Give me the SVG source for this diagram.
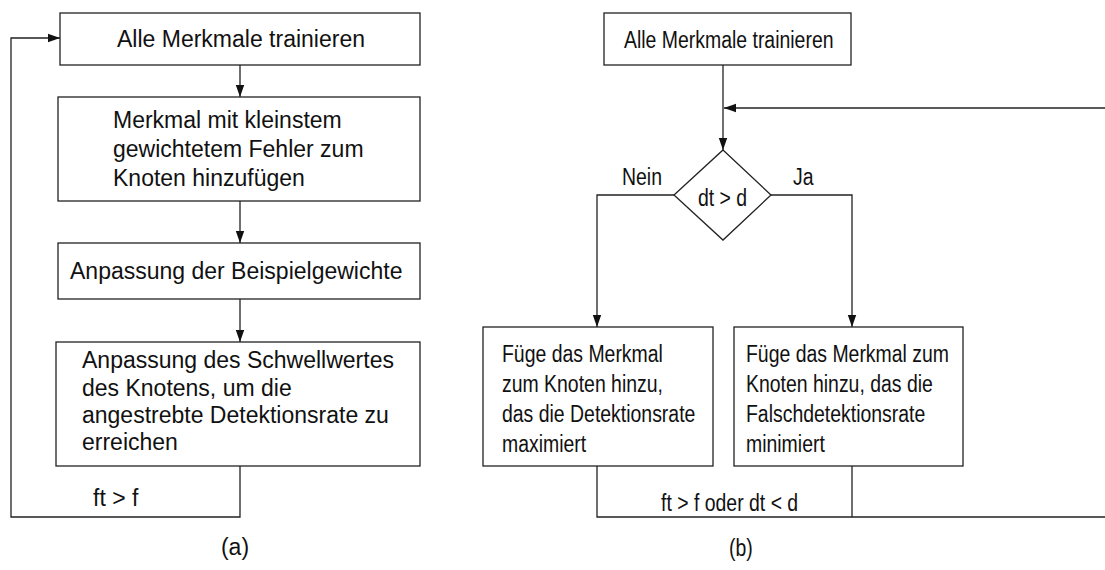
<svg xmlns="http://www.w3.org/2000/svg" width="1105" height="570" viewBox="0 0 1105 570">
<style>
.box{fill:#fff;stroke:#222;stroke-width:1.3}
.ln{fill:none;stroke:#222;stroke-width:1.3}
.t{font-family:"Liberation Sans",Arial,sans-serif;font-size:23px;fill:#111}
.r{font-family:"Liberation Sans",Arial,sans-serif;font-size:24px;fill:#111}
</style>
<defs>
<marker id="arr" viewBox="0 0 12 10" refX="12" refY="5" markerWidth="12" markerHeight="10" markerUnits="userSpaceOnUse" orient="auto">
<path d="M0,0.8 L12,5 L0,9.2 Z" fill="#111"/>
</marker>
</defs>
<rect width="1105" height="570" fill="#fff"/>
<g id="connectors">
<path class="ln" d="M240,65 V97" marker-end="url(#arr)"/>
<path class="ln" d="M240,201 V243" marker-end="url(#arr)"/>
<path class="ln" d="M240,299 V342" marker-end="url(#arr)"/>
<path class="ln" d="M240,466 V517 H11 V38 H60" marker-end="url(#arr)"/>
<path class="ln" d="M723,65 V150" marker-end="url(#arr)"/>
<path class="ln" d="M1105,108 H724" marker-end="url(#arr)"/>
<path class="ln" d="M674,195 H597 V327" marker-end="url(#arr)"/>
<path class="ln" d="M771,195 H852 V327" marker-end="url(#arr)"/>
<path class="ln" d="M597,466 V517 H1105"/>
<path class="ln" d="M852,466 V517"/>
</g>
<g id="a-train">
<rect class="box" x="60" y="13" width="360" height="52"/>
<text class="t" x="241" y="47" text-anchor="middle">Alle Merkmale trainieren</text>
</g>
<g id="a-add">
<rect class="box" x="58" y="97" width="362" height="104"/>
<text class="t" x="113" y="128">Merkmal mit kleinstem</text>
<text class="t" x="113" y="157">gewichtetem Fehler zum</text>
<text class="t" x="113" y="186">Knoten hinzufügen</text>
</g>
<g id="a-weights">
<rect class="box" x="58" y="243" width="362" height="56"/>
<text class="t" x="70" y="279">Anpassung der Beispielgewichte</text>
</g>
<g id="a-threshold">
<rect class="box" x="56" y="342" width="364" height="124"/>
<text class="t" x="82" y="368">Anpassung des Schwellwertes</text>
<text class="t" x="82" y="396">des Knotens, um die</text>
<text class="t" x="82" y="423">angestrebte Detektionsrate zu</text>
<text class="t" x="82" y="450">erreichen</text>
</g>
<g id="a-labels">
<text class="t" x="93" y="506">ft &gt; f</text>
<text class="t" x="235" y="555" text-anchor="middle">(a)</text>
</g>
<g id="b-train">
<rect class="box" x="604" y="13" width="247" height="52"/>
<text class="r" transform="matrix(0.81 0 0 1 624 0)" x="0" y="48">Alle Merkmale trainieren</text>
</g>
<g id="b-decision">
<path class="box" d="M723,150 L771,195 L723,240 L674,195 Z"/>
<text class="r" transform="matrix(0.81 0 0 1 698 0)" x="0" y="206">dt &gt; d</text>
<text class="r" transform="matrix(0.81 0 0 1 622 0)" x="0" y="185">Nein</text>
<text class="r" transform="matrix(0.81 0 0 1 793 0)" x="0" y="185">Ja</text>
</g>
<g id="b-max">
<rect class="box" x="483" y="327" width="230" height="139"/>
<text class="r" transform="matrix(0.81 0 0 1 502 0)" x="0" y="362">Füge das Merkmal</text>
<text class="r" transform="matrix(0.81 0 0 1 502 0)" x="0" y="392">zum Knoten hinzu,</text>
<text class="r" transform="matrix(0.81 0 0 1 502 0)" x="0" y="422">das die Detektionsrate</text>
<text class="r" transform="matrix(0.81 0 0 1 502 0)" x="0" y="452">maximiert</text>
</g>
<g id="b-min">
<rect class="box" x="734" y="327" width="229" height="139"/>
<text class="r" transform="matrix(0.81 0 0 1 746 0)" x="0" y="362">Füge das Merkmal zum</text>
<text class="r" transform="matrix(0.81 0 0 1 746 0)" x="0" y="392">Knoten hinzu, das die</text>
<text class="r" transform="matrix(0.81 0 0 1 746 0)" x="0" y="422">Falschdetektionsrate</text>
<text class="r" transform="matrix(0.81 0 0 1 746 0)" x="0" y="452">minimiert</text>
</g>
<g id="b-labels">
<text class="r" transform="matrix(0.81 0 0 1 661 0)" x="0" y="511">ft &gt; f oder dt &lt; d</text>
<text class="r" transform="matrix(0.81 0 0 1 729 0)" x="0" y="556">(b)</text>
</g>
</svg>
